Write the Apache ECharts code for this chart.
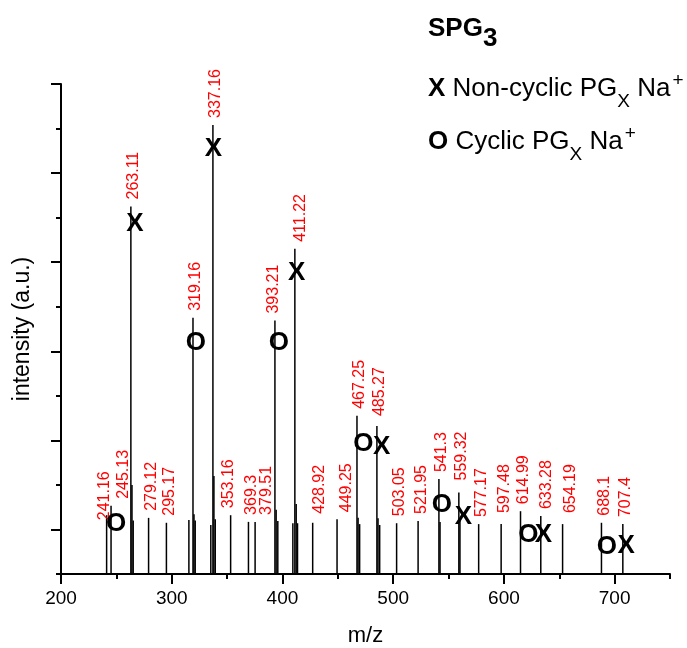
<!DOCTYPE html>
<html>
<head>
<meta charset="utf-8">
<title>SPG3 mass spectrum</title>
<script src="https://cdn.jsdelivr.net/npm/echarts@6/dist/echarts.min.js"></script>
<style>
    html, body { margin: 0; padding: 0; background: #fff; }
    #main { width: 687px; height: 648px; }
</style>
</head>
<body>
<div id="main"></div>
<script>
// stick spectrum: m/z and relative intensity of each line
var peakMz = [
    241.2, 245.2, 263.1, 264.1, 265.2, 279.1, 295.2, 315.5, 319.2, 320.1,
    321.2, 335.3, 337.2, 338.1, 339.3, 353.2, 369.3, 375.3, 393.2, 394.3,
    395.8, 409.4, 411.2, 412.4, 413.6, 427.3, 449.3, 467.3, 468.3, 469.7,
    485.3, 486.3, 487.8, 503.1, 522.5, 541.3, 542.3, 559.3, 560.3, 577.2,
    597.5, 615.0, 633.3, 653.0, 688.1, 707.4
];
var peakIntensity = [
    13.2, 15.3, 82.5, 20.0, 12.0, 12.6, 11.5, 12.1, 57.5, 13.4,
    12.0, 11.0, 100.8, 22.0, 12.3, 13.2, 11.7, 11.7, 56.9, 14.4,
    11.9, 11.4, 73.0, 15.7, 11.4, 11.5, 12.3, 35.5, 12.6, 11.2,
    33.2, 12.5, 11.0, 11.4, 11.9, 21.3, 11.7, 18.3, 12.0, 11.2,
    11.2, 14.1, 13.0, 11.2, 11.5, 11.2
];

// red m/z annotations (each sits above the nearest line)
var peakLabels = [
    '241.16', '245.13', '263.11', '279.12', '295.17', '319.16', '337.16', '353.16',
    '369.3', '379.51', '393.21', '411.22', '428.92', '449.25', '467.25', '485.27',
    '503.05', '521.95', '541.3', '559.32', '577.17', '597.48', '614.99', '633.28',
    '654.19', '688.1', '707.4'
];

// X / O markers (m/z, intensity of the letter centre)
var nonCyclicMarks = [
    [266.8, 78.6], [337.6, 95.4], [412.9, 67.7], [489.7, 28.6],
    [563.4, 12.9], [635.7, 8.8], [710.4, 6.3]
];
var cyclicMarks = [
    [249.7, 11.2], [321.7, 51.9], [396.7, 51.8], [473.1, 29.2],
    [543.9, 15.5], [622.1, 8.8], [693.0, 6.1]
];

// axis ticks
var xTicks = [200, 300, 400, 500, 600, 700];
var xMinorTicks = [250, 350, 450, 550, 650, 750];
var yMajorTicks = [10, 30, 50, 70, 90, 110];
var yMinorTicks = [0, 20, 40, 60, 80, 100];

var FONT = '"Liberation Sans", Arial, Helvetica, sans-serif';

// pixel nudges [dx, dy] for labels that are not set straight over their line
var labelNudge = {
    '241.16': [-5, 12],
    '245.13': [10, 0],
    '353.16': [-5, 0],
    '379.51': [8, 0],
    '393.21': [-4, 0],
    '411.22': [3, 0],
    '428.92': [4, -2],
    '449.25': [7, 0],
    '485.27': [0, -3],
    '559.32': [0, -5],
    '597.48': [0, -4],
    '633.28': [3, 0],
    '654.19': [5, -4]
};

function nearestPeak(mz) {
    var best = 0;
    for (var i = 1; i < peakMz.length; i++) {
        if (Math.abs(peakMz[i] - mz) < Math.abs(peakMz[best] - mz)) best = i;
    }
    return best;
}

function legendRich() {
    return {
        m: {fontSize: 26, fontWeight: 'bold', fontFamily: FONT, verticalAlign: 'top', padding: [5, 0, 0, 0]},
        t: {fontSize: 26, fontFamily: FONT, verticalAlign: 'top', padding: [5, 0, 0, 0]},
        s: {fontSize: 19, fontFamily: FONT, verticalAlign: 'top', padding: [21, 0, 0, 0]},
        p: {fontSize: 19, fontFamily: FONT, verticalAlign: 'top', padding: [0, 0, 0, 2]}
    };
}

var chart = echarts.init(document.getElementById('main'));

var axisLineStyle = {color: '#000', width: 2};

var option = {
    animation: false,
    backgroundColor: '#fff',
    grid: {left: 61, right: 17, top: 84, bottom: 74, outerBoundsMode: 'none'},
    xAxis: [{
        type: 'value', min: 200, max: 750,
        name: 'm/z', nameLocation: 'middle', nameGap: 51,
        nameTextStyle: {color: '#000', fontSize: 22, fontFamily: FONT},
        axisLine: {show: true, lineStyle: axisLineStyle},
        axisTick: {show: true, length: 10, customValues: xTicks, lineStyle: axisLineStyle},
        axisLabel: {customValues: xTicks, color: '#000', fontSize: 19, fontFamily: FONT, margin: 15},
        splitLine: {show: false}
    }, {
        type: 'value', min: 200, max: 750, position: 'bottom',
        axisLine: {show: false},
        axisTick: {show: true, length: 5, customValues: xMinorTicks, lineStyle: axisLineStyle},
        axisLabel: {show: false},
        splitLine: {show: false}
    }],
    yAxis: [{
        type: 'value', min: 0, max: 110,
        name: 'intensity (a.u.)', nameLocation: 'middle', nameGap: 27,
        nameTextStyle: {color: '#000', fontSize: 23, fontFamily: FONT},
        axisLine: {show: true, lineStyle: axisLineStyle},
        axisTick: {show: true, length: 10, customValues: yMajorTicks, lineStyle: axisLineStyle},
        axisLabel: {show: false},
        splitLine: {show: false}
    }, {
        type: 'value', min: 0, max: 110, position: 'left',
        axisLine: {show: false},
        axisTick: {show: true, length: 5, customValues: yMinorTicks, lineStyle: axisLineStyle},
        axisLabel: {show: false},
        splitLine: {show: false}
    }],
    series: [{
        // the sticks
        type: 'custom',
        data: peakMz.map(function (m, i) { return [m, peakIntensity[i]]; }),
        renderItem: function (params, api) {
            var top = api.coord([api.value(0), api.value(1)]);
            var base = api.coord([api.value(0), 0]);
            return {
                type: 'line',
                shape: {x1: top[0], y1: top[1], x2: base[0], y2: base[1]},
                style: {stroke: '#000', lineWidth: 1.5}
            };
        }
    }, {
        // red rotated m/z labels
        type: 'custom',
        data: peakLabels.map(function (t) {
            var i = nearestPeak(parseFloat(t));
            return [peakMz[i], peakIntensity[i]];
        }),
        renderItem: function (params, api) {
            var text = peakLabels[params.dataIndex];
            var p = api.coord([api.value(0), api.value(1)]);
            var nudge = labelNudge[text] || [0, 0];
            return {
                type: 'text',
                x: p[0] + 3 + nudge[0],
                y: p[1] - 7 + nudge[1],
                rotation: Math.PI / 2,
                style: {
                    text: text, fill: '#ff0000',
                    fontSize: 16, fontFamily: FONT,
                    align: 'left', verticalAlign: 'middle'
                }
            };
        }
    }, {
        // X markers
        type: 'custom',
        data: nonCyclicMarks,
        renderItem: function (params, api) {
            var p = api.coord([api.value(0), api.value(1)]);
            return {
                type: 'text', x: p[0], y: p[1],
                style: {text: 'X', fill: '#000', fontSize: 26, fontWeight: 'bold', fontFamily: FONT,
                    align: 'center', verticalAlign: 'middle'}
            };
        }
    }, {
        // O markers
        type: 'custom',
        data: cyclicMarks,
        renderItem: function (params, api) {
            var p = api.coord([api.value(0), api.value(1)]);
            return {
                type: 'text', x: p[0], y: p[1],
                style: {text: 'O', fill: '#000', fontSize: 26, fontWeight: 'bold', fontFamily: FONT,
                    align: 'center', verticalAlign: 'middle'}
            };
        }
    }],
    graphic: [{
        type: 'text', left: 428, top: 16,
        style: {
            text: '{a|SPG}{b|3}',
            fill: '#000',
            rich: {
                a: {fontSize: 26, fontWeight: 'bold', fontFamily: FONT, verticalAlign: 'top'},
                b: {fontSize: 26, fontWeight: 'bold', fontFamily: FONT, verticalAlign: 'top', padding: [9.5, 0, 0, 0]}
            }
        }
    }, {
        type: 'text', left: 428, top: 71,
        style: {
            text: '{m|X}{t| Non-cyclic PG}{s|X}{t| Na}{p|+}',
            fill: '#000',
            rich: legendRich()
        }
    }, {
        type: 'text', left: 428, top: 124,
        style: {
            text: '{m|O}{t| Cyclic PG}{s|X}{t| Na}{p|+}',
            fill: '#000',
            rich: legendRich()
        }
    }]
};

chart.setOption(option);
</script>
</body>
</html>
